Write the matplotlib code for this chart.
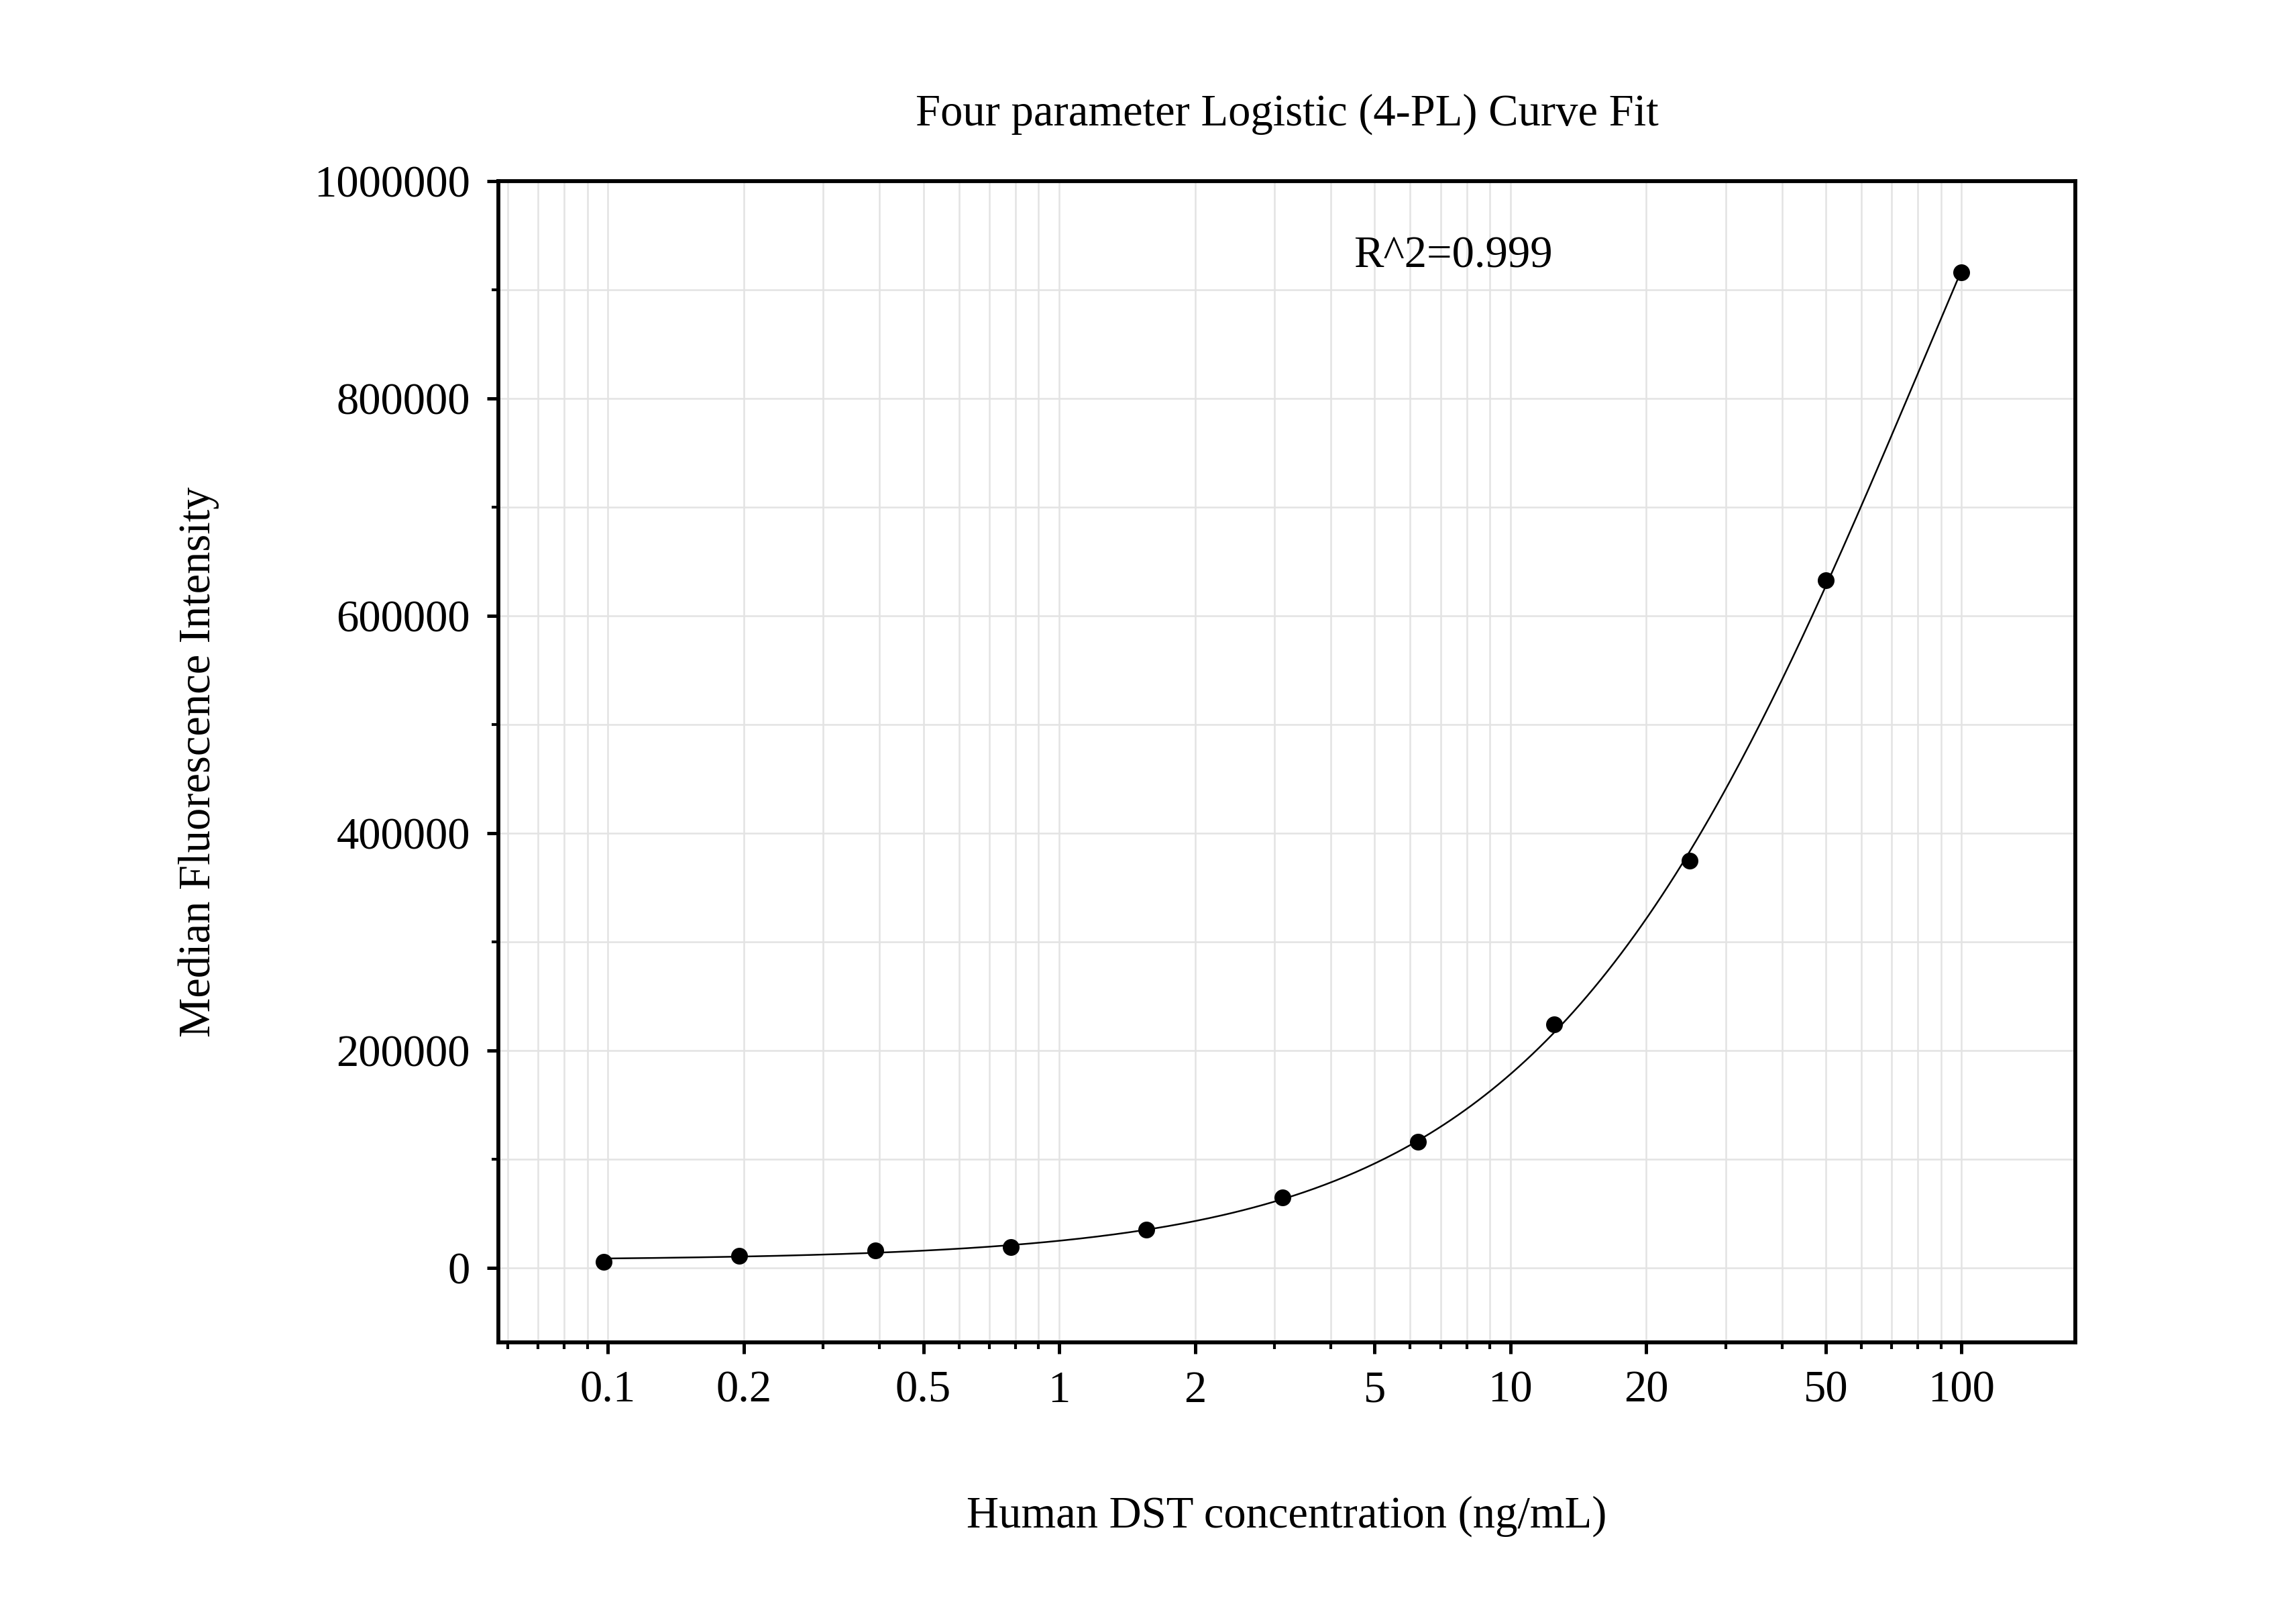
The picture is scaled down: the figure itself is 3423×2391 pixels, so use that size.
import numpy as np
import matplotlib
matplotlib.use("Agg")
import matplotlib.pyplot as plt
from matplotlib.ticker import FixedLocator, NullFormatter, MultipleLocator

conc = [100, 50, 25, 12.5, 6.25, 3.125, 1.5625, 0.78125, 0.390625, 0.1953125, 0.09765625]
mfi = [916000, 633000, 375000, 224000, 116000, 64700, 35000, 19000, 16000, 10800, 5400]
xticks = [0.1, 0.2, 0.5, 1, 2, 5, 10, 20, 50, 100]
xticklabels = ["0.1", "0.2", "0.5", "1", "2", "5", "10", "20", "50", "100"]
yticks = [0, 200000, 400000, 600000, 800000, 1000000]

x = np.array(conc); y = np.array(mfi)
best = None
for lc in np.linspace(0, 4, 161):
    c = 10**lc
    for b in np.linspace(0.5, 2.5, 101):
        g = 1/(1+(x/c)**b)
        A = np.column_stack([g, 1-g])
        coef, *_ = np.linalg.lstsq(A, y, rcond=None)
        r = np.sum((A@coef-y)**2)
        if best is None or r < best[0]:
            best = (r, c, b, coef)
_, c, b, (a, d) = best
xf = np.logspace(np.log10(min(conc)), np.log10(max(conc)), 400)
yf = d + (a-d)/(1+(xf/c)**b)

plt.rcParams["font.family"] = "Liberation Serif"
fig = plt.figure(figsize=(11.41, 7.97), dpi=300)
ax = fig.add_axes([0.217, 0.163, 0.687, 0.724])
ax.set_xscale("log")
ax.set_xlim(0.0571, 179)
ax.set_ylim(-68700, 1000000)
ax.plot(xf, yf, color="black", lw=0.6, zorder=3)
ax.plot(conc, mfi, "o", color="black", ms=5, zorder=4)
ax.xaxis.set_major_locator(FixedLocator(xticks))
ax.set_xticklabels(xticklabels)
minors = [m*10**e for e in range(-2, 3) for m in range(1, 10)]
ax.xaxis.set_minor_locator(FixedLocator([v for v in minors if v not in xticks]))
ax.xaxis.set_minor_formatter(NullFormatter())
ax.set_yticks(yticks)
ax.set_yticklabels([str(v) for v in yticks])
ax.yaxis.set_minor_locator(MultipleLocator(100000))
ax.grid(True, which="both", color="#e3e3e3", lw=0.6, zorder=0)
ax.set_axisbelow(True)
for s in ax.spines.values():
    s.set_linewidth(1.4)
ax.tick_params(which="major", direction="out", length=4, width=1.2, labelsize=16, pad=6)
ax.tick_params(which="minor", direction="out", length=2.5, width=1.0)
ax.set_xlabel("Human DST concentration (ng/mL)", fontsize=16, labelpad=30)
ax.set_ylabel("Median Fluorescence Intensity", fontsize=16, labelpad=34)
ax.set_title("Four parameter Logistic (4-PL) Curve Fit", fontsize=16, pad=20)
ax.text(4.5, 931000, "R^2=0.999", fontsize=16, va="center", ha="left")
fig.savefig("out.png")
